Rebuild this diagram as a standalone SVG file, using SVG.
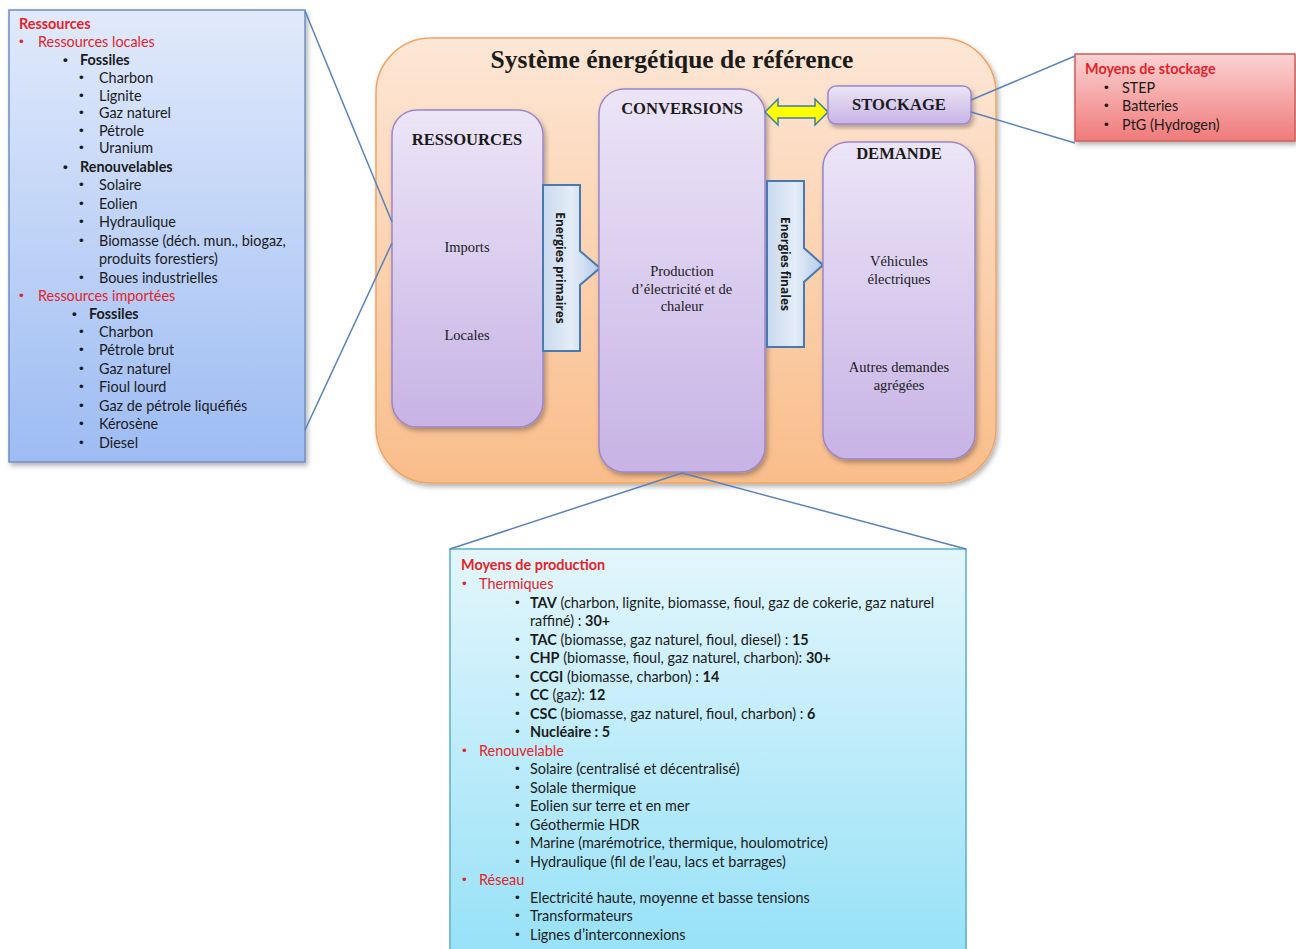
<svg xmlns="http://www.w3.org/2000/svg" width="1296" height="949" viewBox="0 0 1296 949">
<defs>
<linearGradient id="gBlue" x1="0" y1="0" x2="0" y2="1"><stop offset="0" stop-color="#e1eafb"/><stop offset="1" stop-color="#9dbcf3"/></linearGradient>
<linearGradient id="gOrange" x1="0" y1="0" x2="0" y2="1"><stop offset="0" stop-color="#fde7d6"/><stop offset="1" stop-color="#f9bd8a"/></linearGradient>
<linearGradient id="gLav" x1="0" y1="0" x2="0" y2="1"><stop offset="0" stop-color="#ece5f7"/><stop offset="1" stop-color="#c7b3e5"/></linearGradient>
<linearGradient id="gArrow" x1="0" y1="0" x2="1" y2="0"><stop offset="0" stop-color="#c9d9ee"/><stop offset="0.5" stop-color="#e4edf8"/><stop offset="1" stop-color="#b3cbe8"/></linearGradient>
<linearGradient id="gRed" x1="0" y1="0" x2="0" y2="1"><stop offset="0" stop-color="#fbd3d3"/><stop offset="1" stop-color="#f07a7a"/></linearGradient>
<linearGradient id="gCyan" x1="0" y1="0" x2="0" y2="1"><stop offset="0" stop-color="#e3f6fc"/><stop offset="1" stop-color="#96e1f7"/></linearGradient>
<filter id="sh" x="-10%" y="-10%" width="125%" height="125%"><feDropShadow dx="2" dy="3" stdDeviation="2.5" flood-color="#000" flood-opacity="0.3"/></filter>
</defs>
<style>
.s{font-family:Lato,"Liberation Sans",sans-serif;font-size:14.4px;fill:#1b1b1b}
.d{font-family:"Liberation Sans",sans-serif;font-size:13.5px;fill:#1b1b1b}
.b{font-weight:bold}
.r{fill:#e3242b}
.t{font-family:"Liberation Serif",serif;font-size:14.5px;fill:#1b1b1b;text-anchor:middle}
.h{font-family:"Liberation Serif",serif;font-size:16.6px;font-weight:bold;fill:#1b1b1b;text-anchor:middle}
.v{font-family:"Open Sans","Liberation Sans",sans-serif;font-size:12px;font-weight:bold;fill:#1b1b1b;text-anchor:middle}
.lav{fill:url(#gLav);stroke:#9b86c8;stroke-width:1.5}
.arr{fill:url(#gArrow);stroke:#4a78b0;stroke-width:2}
.ln{stroke:#5a82b8;stroke-width:1.5;fill:none}
</style>

<g id="ressources-detail">
<rect x="9" y="10" width="296" height="452" fill="url(#gBlue)" stroke="#6f8fc0" stroke-width="1.5" filter="url(#sh)"/>
<text class="s b r" x="19" y="29">Ressources</text>
<text class="d r" x="19" y="46">•</text><text class="s r" x="38" y="47">Ressources locales</text>
<text class="d b" x="63" y="64">•</text><text class="s b" x="80" y="65">Fossiles</text>
<text class="d" x="79" y="82">•</text><text class="s" x="99" y="83">Charbon</text>
<text class="d" x="79" y="100">•</text><text class="s" x="99" y="101">Lignite</text>
<text class="d" x="79" y="117">•</text><text class="s" x="99" y="118">Gaz naturel</text>
<text class="d" x="79" y="135">•</text><text class="s" x="99" y="136">Pétrole</text>
<text class="d" x="79" y="152">•</text><text class="s" x="99" y="153">Uranium</text>
<text class="d b" x="63" y="171">•</text><text class="s b" x="80" y="172">Renouvelables</text>
<text class="d" x="79" y="189">•</text><text class="s" x="99" y="190">Solaire</text>
<text class="d" x="79" y="208">•</text><text class="s" x="99" y="209">Eolien</text>
<text class="d" x="79" y="226">•</text><text class="s" x="99" y="227">Hydraulique</text>
<text class="d" x="79" y="245">•</text><text class="s" x="99" y="246">Biomasse (déch. mun., biogaz,</text>
<text class="s" x="99" y="264">produits forestiers)</text>
<text class="d" x="79" y="282">•</text><text class="s" x="99" y="283">Boues industrielles</text>
<text class="d r" x="19" y="300">•</text><text class="s r" x="38" y="301">Ressources importées</text>
<text class="d b" x="72" y="318">•</text><text class="s b" x="89" y="319">Fossiles</text>
<text class="d" x="79" y="336">•</text><text class="s" x="99" y="337">Charbon</text>
<text class="d" x="79" y="354">•</text><text class="s" x="99" y="355">Pétrole brut</text>
<text class="d" x="79" y="373">•</text><text class="s" x="99" y="374">Gaz naturel</text>
<text class="d" x="79" y="391">•</text><text class="s" x="99" y="392">Fioul lourd</text>
<text class="d" x="79" y="410">•</text><text class="s" x="99" y="411">Gaz de pétrole liquéfiés</text>
<text class="d" x="79" y="428">•</text><text class="s" x="99" y="429">Kérosène</text>
<text class="d" x="79" y="447">•</text><text class="s" x="99" y="448">Diesel</text>
</g>

<g id="systeme">
<rect x="376" y="38" width="620" height="445" rx="55" fill="url(#gOrange)" stroke="#f0a565" stroke-width="1.5" filter="url(#sh)"/>
<text x="672" y="68" font-family="Liberation Serif,serif" font-size="25.5" font-weight="bold" fill="#1b1b1b" text-anchor="middle">Système énergétique de référence</text>
</g>

<g id="ressources">
<rect class="lav" x="392" y="110" width="151" height="317" rx="25" filter="url(#sh)"/>
<text class="h" x="467" y="145">RESSOURCES</text>
<text class="t" x="467" y="252">Imports</text>
<text class="t" x="467" y="340">Locales</text>
</g>

<g id="energies-primaires">
<path class="arr" d="M543,185 H580 V251 L600,268 L580,285 V351 H543 Z"/>
<text class="v" transform="translate(556,268) rotate(90)">Energies primaires</text>
</g>

<g id="conversions">
<rect class="lav" x="599" y="89" width="166" height="383" rx="25" filter="url(#sh)"/>
<text class="h" x="682" y="114">CONVERSIONS</text>
<text class="t" x="682" y="276">Production</text>
<text class="t" x="682" y="294">d’électricité et de</text>
<text class="t" x="682" y="311">chaleur</text>
</g>

<g id="energies-finales">
<path class="arr" d="M767,181 H804 V248 L823,265 L804,282 V347 H767 Z"/>
<text class="v" transform="translate(781,264) rotate(90)">Energies finales</text>
</g>

<g id="stockage-link">
<path d="M765,112 L778,99 V106 H815 V99 L828,112 L815,125 V118 H778 V125 Z" fill="#ffff00" stroke="#3f7fa6" stroke-width="1.5"/>
</g>

<g id="stockage">
<rect class="lav" x="828" y="86" width="143" height="38" rx="8" filter="url(#sh)"/>
<text class="h" x="899" y="110">STOCKAGE</text>
</g>

<g id="demande">
<rect class="lav" x="823" y="142" width="152" height="317" rx="25" filter="url(#sh)"/>
<text class="h" x="899" y="159">DEMANDE</text>
<text class="t" x="899" y="266">Véhicules</text>
<text class="t" x="899" y="284">électriques</text>
<text class="t" x="899" y="372">Autres demandes</text>
<text class="t" x="899" y="390">agrégées</text>
</g>

<g id="moyens-stockage">
<rect x="1075" y="54" width="220" height="87" fill="url(#gRed)" stroke="#c9605c" stroke-width="1.5" filter="url(#sh)"/>
<text class="s b r" x="1085" y="74">Moyens de stockage</text>
<text class="d" x="1104" y="92">•</text><text class="s" x="1122" y="93">STEP</text>
<text class="d" x="1104" y="110">•</text><text class="s" x="1122" y="111">Batteries</text>
<text class="d" x="1104" y="129">•</text><text class="s" x="1122" y="130">PtG (Hydrogen)</text>
</g>

<g id="moyens-production">
<rect x="450" y="549" width="516" height="410" fill="url(#gCyan)" stroke="#5aaecb" stroke-width="1.5"/>
<text class="s b r" x="461" y="570">Moyens de production</text>
<text class="d r" x="462" y="588">•</text><text class="s r" x="479" y="589">Thermiques</text>
<text class="d" x="515" y="607">•</text><text class="s" x="530" y="608"><tspan class="b">TAV</tspan>  (charbon, lignite, biomasse, fioul, gaz de cokerie, gaz naturel</text>
<text class="s" x="530" y="626">raffiné) : <tspan class="b">30+</tspan></text>
<text class="d" x="515" y="644">•</text><text class="s" x="530" y="645"><tspan class="b">TAC</tspan> (biomasse, gaz naturel, fioul, diesel) : <tspan class="b">15</tspan></text>
<text class="d" x="515" y="662">•</text><text class="s" x="530" y="663"><tspan class="b">CHP</tspan> (biomasse, fioul, gaz naturel, charbon): <tspan class="b">30+</tspan></text>
<text class="d" x="515" y="681">•</text><text class="s" x="530" y="682"><tspan class="b">CCGI</tspan> (biomasse, charbon) : <tspan class="b">14</tspan></text>
<text class="d" x="515" y="699">•</text><text class="s" x="530" y="700"><tspan class="b">CC</tspan> (gaz): <tspan class="b">12</tspan></text>
<text class="d" x="515" y="718">•</text><text class="s" x="530" y="719"><tspan class="b">CSC</tspan> (biomasse, gaz naturel, fioul, charbon) : <tspan class="b">6</tspan></text>
<text class="d" x="515" y="736">•</text><text class="s b" x="530" y="737">Nucléaire : 5</text>
<text class="d r" x="462" y="755">•</text><text class="s r" x="479" y="756">Renouvelable</text>
<text class="d" x="515" y="773">•</text><text class="s" x="530" y="774">Solaire (centralisé et décentralisé)</text>
<text class="d" x="515" y="792">•</text><text class="s" x="530" y="793">Solale thermique</text>
<text class="d" x="515" y="810">•</text><text class="s" x="530" y="811">Eolien sur terre et en mer</text>
<text class="d" x="515" y="829">•</text><text class="s" x="530" y="830">Géothermie HDR</text>
<text class="d" x="515" y="847">•</text><text class="s" x="530" y="848">Marine (marémotrice, thermique, houlomotrice)</text>
<text class="d" x="515" y="866">•</text><text class="s" x="530" y="867">Hydraulique (fil de l’eau, lacs et barrages)</text>
<text class="d r" x="462" y="884">•</text><text class="s r" x="479" y="885">Réseau</text>
<text class="d" x="515" y="902">•</text><text class="s" x="530" y="903">Electricité haute, moyenne et basse tensions</text>
<text class="d" x="515" y="920">•</text><text class="s" x="530" y="921">Transformateurs</text>
<text class="d" x="515" y="939">•</text><text class="s" x="530" y="940">Lignes d’interconnexions</text>
</g>

<g id="connectors">
<line class="ln" x1="305" y1="11" x2="392" y2="222"/>
<line class="ln" x1="305" y1="430" x2="392" y2="243"/>
<line class="ln" x1="971" y1="100" x2="1075" y2="56"/>
<line class="ln" x1="971" y1="112" x2="1075" y2="143"/>
<line class="ln" x1="682" y1="473" x2="450" y2="549"/>
<line class="ln" x1="682" y1="473" x2="966" y2="549"/>
</g>
</svg>
